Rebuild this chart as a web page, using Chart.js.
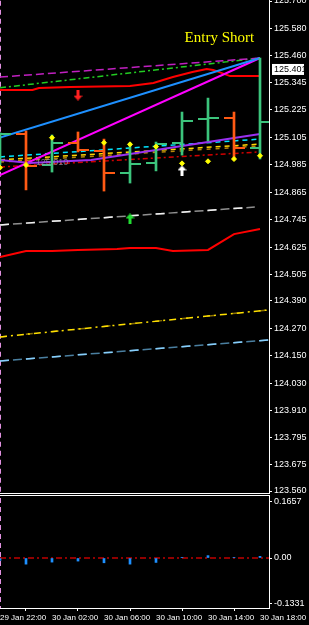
<html>
<head>
<script src="https://cdn.jsdelivr.net/npm/chart.js@4.4.0/dist/chart.umd.min.js"></script>
<style>
  body { margin: 0; background: #000; overflow: hidden; }
  .box { position: absolute; left: 0; width: 309px; }
</style>
</head>
<body>
<div class="box" style="top:0;height:500px"><canvas id="mainChart"></canvas></div>
<div class="box" style="top:494px;height:131px"><canvas id="subChart"></canvas></div>
<script>
// time axis is in hours from 29 Jan 22:00, one bar every 2 hours (H2)
const timeTicks = [0, 4, 8, 12, 16, 20];
const timeLabels = ['29 Jan 22:00', '30 Jan 02:00', '30 Jan 06:00', '30 Jan 10:00', '30 Jan 14:00', '30 Jan 18:00'];
const priceTicks = [125.700, 125.580, 125.460, 125.345, 125.225, 125.105, 124.985, 124.865, 124.745,
                    124.625, 124.505, 124.390, 124.270, 124.150, 124.030, 123.910, 123.795, 123.675, 123.560];
const subTicks = [0.1657, 0, -0.1331];
const lastPrice = 125.401;

// OHLC bars
const barTimes = [0, 2, 4, 6, 8, 10, 12, 14, 16, 18, 20];
const opens  = [125.006, 125.119, 124.984, 125.080, 125.045, 124.949, 124.993, 125.080, 125.183, 125.189, 125.058];
const highs  = [125.124, 125.132, 125.115, 125.128, 125.097, 125.080, 125.084, 125.215, 125.276, 125.215, 125.451];
const lows   = [124.984, 124.875, 124.953, 125.041, 124.870, 124.905, 124.958, 125.027, 125.089, 125.006, 125.010];
const closes = [125.119, 124.979, 125.080, 125.049, 124.949, 124.988, 125.076, 125.176, 125.189, 125.058, 125.172];

// yellow dots
const dotTimes  = [0, 2, 4, 8, 10, 12, 14, 16, 18, 20];
const dotValues = [124.972, 124.984, 125.103, 125.081, 125.074, 125.064, 124.991, 125.000, 125.010, 125.024];

// indicator lines [hour, price]
const magentaDash   = [[0, 125.368], [20, 125.451]];
const greenDashDot  = [[0, 125.321], [20, 125.451]];
const redUpper      = [[0, 125.311], [2.5, 125.311], [3, 125.320], [5.4, 125.324], [10, 125.329], [11.8, 125.342],
                       [13.3, 125.368], [14.8, 125.390], [15.9, 125.403], [16.4, 125.399], [17.7, 125.372], [20, 125.372]];
const blueLine      = [[0, 125.104], [20, 125.451]];
const magentaLine   = [[0, 124.940], [20, 125.451]];
const purpleLine    = [[0, 125.006], [2.3, 124.993], [7, 125.006], [20, 125.119]];
const cyanDash      = [[0, 125.019], [20, 125.097]];
const yellowDash    = [[0, 125.006], [20, 125.075]];
const goldDash      = [[0, 124.997], [20, 125.067]];
const redDashDot    = [[0, 124.975], [20, 125.041]];
const whiteDash     = [[0, 124.722], [19.6, 124.800]];
const redLower      = [[0, 124.582], [2, 124.608], [4, 124.608], [6, 124.613], [9, 124.617], [10, 124.621],
                       [12, 124.621], [13.3, 124.608], [16, 124.613], [18, 124.682], [20, 124.704]];
const yellowDashDot = [[0, 124.233], [20.7, 124.351]];
const skyDash       = [[0, 124.128], [20.7, 124.220]];

// arrows [hour, price]
const sellArrows  = [[6, 125.289]];
const buyArrows   = [[10, 124.748]];
const whiteArrows = [[14, 124.958]];

// lower window histogram
const histValues = [-0.007, -0.018, -0.012, -0.009, -0.014, -0.018, -0.013, 0.002, 0.007, 0.001, 0.005];

const upColor = '#3cc47c';
const downColor = '#ff5a14';
const FONT = "'Liberation Sans Narrow', 'Liberation Sans', sans-serif";
Chart.defaults.font.family = FONT;

const pts = a => a.map(p => ({ x: p[0], y: p[1] }));

function line(data, color, width, dash, order) {
  return { type: 'line', data: pts(data), borderColor: color, borderWidth: width, borderDash: dash || [],
           pointRadius: 0, fill: false, tension: 0, order: order || 20 };
}

function tickImg(color, left) {
  const c = document.createElement('canvas');
  c.width = 21; c.height = 2;
  const g = c.getContext('2d');
  g.fillStyle = color;
  g.fillRect(left ? 0 : 10, 0, 11, 2);
  return c;
}

function arrowImg(color, up) {
  const c = document.createElement('canvas');
  c.width = 9; c.height = 11;
  const g = c.getContext('2d');
  g.fillStyle = color;
  if (!up) { g.translate(0, 11); g.scale(1, -1); }
  g.beginPath();
  g.moveTo(4.5, 0); g.lineTo(9, 5); g.lineTo(0, 5); g.closePath(); g.fill();
  g.fillRect(3, 5, 3, 6);
  return c;
}

const isUp = barTimes.map((t, i) => closes[i] >= opens[i]);
const barColors = isUp.map(u => u ? upColor : downColor);
const openTicks = { up: tickImg(upColor, true), down: tickImg(downColor, true) };
const closeTicks = { up: tickImg(upColor, false), down: tickImg(downColor, false) };

const xScale = {
  type: 'linear', min: 0, max: 269 / 13, offset: false,
  afterBuildTicks: s => { s.ticks = timeTicks.map(v => ({ value: v })); },
  afterFit: s => { s.paddingLeft = 0; s.paddingRight = 0; }
};

const mainChart = new Chart(document.getElementById('mainChart'), {
  type: 'line',
  data: {
    datasets: [
      { type: 'bar', data: barTimes.map((t, i) => ({ x: t, y: [lows[i], highs[i]] })),
        backgroundColor: barColors, barThickness: 2, order: 2 },
      { type: 'scatter', data: barTimes.map((t, i) => ({ x: t, y: opens[i] })),
        pointStyle: isUp.map(u => u ? openTicks.up : openTicks.down), order: 1 },
      { type: 'scatter', data: barTimes.map((t, i) => ({ x: t, y: closes[i] })),
        pointStyle: isUp.map(u => u ? closeTicks.up : closeTicks.down), order: 1 },
      { type: 'scatter', data: dotTimes.map((t, i) => ({ x: t, y: dotValues[i] })),
        pointStyle: 'rectRot', pointRadius: 2.5, backgroundColor: '#ffff00', borderColor: '#ffff00', order: 0 },
      { type: 'scatter', data: pts(sellArrows), pointStyle: arrowImg('#ff2020', false), order: 0 },
      { type: 'scatter', data: pts(buyArrows), pointStyle: arrowImg('#22dd33', true), order: 0 },
      { type: 'scatter', data: pts(whiteArrows), pointStyle: arrowImg('#ffffff', true), order: 0 },
      line(magentaDash, '#c020c0', 1.5, [8, 4]),
      line(greenDashDot, '#22cc22', 1.5, [6, 3, 2, 3]),
      line(redUpper, '#ff0000', 2),
      line(cyanDash, '#00e5ff', 1.5, [5, 4]),
      line(yellowDash, '#ffd700', 1.5, [5, 4]),
      line(goldDash, '#b8860b', 1.5, [4, 5]),
      line(redDashDot, '#d00000', 1.5, [5, 3, 2, 3]),
      line(purpleLine, '#9a30f0', 2, [], 10),
      line(blueLine, '#1e90ff', 2, [], 10),
      line(magentaLine, '#ff00ff', 2, [], 10),
      line(whiteDash, '#f0f0f0', 1.5, [9, 17]),
      line(whiteDash, '#909090', 1.5, [9, 4], 21),
      line(redLower, '#ff0000', 2),
      line(yellowDashDot, '#ffe000', 1.5, [7, 4, 2, 4]),
      line(yellowDashDot, '#8a7000', 1.5, [7, 19], 21),
      line(skyDash, '#87cefa', 1.5, [9, 17]),
      line(skyDash, '#4a7fa0', 1.5, [9, 4], 21),
      line([[0, 123.4], [0, 125.8]], '#e090e0', 2, [5, 4])
    ]
  },
  options: {
    responsive: true, maintainAspectRatio: false, animation: false,
    layout: { autoPadding: false, padding: { top: 0, left: 0, right: 0, bottom: 7 } },
    plugins: { legend: { display: false }, tooltip: { enabled: false } },
    scales: {
      x: Object.assign({ display: false }, xScale),
      y: {
        position: 'right', min: 123.5513, max: 125.7044,
        afterBuildTicks: s => { s.ticks = priceTicks.map(v => ({ value: v })); },
        afterFit: s => { s.width = 40; s.paddingTop = 0; s.paddingBottom = 0; },
        grid: { drawOnChartArea: false, drawTicks: true, tickLength: 3, color: '#ffffff' },
        border: { display: true, color: '#ffffff', width: 1 },
        ticks: { color: '#ffffff', padding: 2, font: { size: 9 }, callback: v => v.toFixed(3) }
      }
    }
  },
  plugins: [{
    id: 'mainExtras',
    afterDraw(chart) {
      const c = chart.ctx, a = chart.chartArea, xs = chart.scales.x, ys = chart.scales.y;
      c.save();
      c.strokeStyle = '#ffffff'; c.lineWidth = 1;
      c.beginPath(); c.moveTo(0, a.bottom + 0.5); c.lineTo(a.right + 1, a.bottom + 0.5); c.stroke();
      // text objects
      c.fillStyle = '#ffff00';
      c.font = "15px 'Liberation Serif', serif";
      c.textBaseline = 'middle'; c.textAlign = 'left';
      c.fillText('Entry Short', xs.getPixelForValue(14.2), ys.getPixelForValue(125.538));
      c.fillStyle = 'rgba(150,150,170,0.8)';
      c.font = "9px " + FONT;
      c.fillText('125.010', xs.getPixelForValue(2.75), ys.getPixelForValue(124.993));
      // last price marker
      const y = ys.getPixelForValue(lastPrice);
      c.fillStyle = '#ffffff';
      c.fillRect(a.right + 3, y - 5.5, 32, 11);
      c.fillStyle = '#000000';
      c.font = "9px " + FONT;
      c.fillText(lastPrice.toFixed(3), a.right + 5, y + 0.5);
      c.restore();
    }
  }]
});

const subChart = new Chart(document.getElementById('subChart'), {
  type: 'bar',
  data: {
    datasets: [
      { type: 'bar', data: barTimes.map((t, i) => ({ x: t, y: histValues[i] })),
        backgroundColor: '#1e90ff', barThickness: 2, order: 1 },
      line([[0, 0], [269 / 13, 0]], '#c00000', 1.5, [6, 3, 2, 3]),
      line([[0, -1], [0, 1]], '#e090e0', 2, [5, 4])
    ]
  },
  options: {
    responsive: true, maintainAspectRatio: false, animation: false,
    layout: { autoPadding: false, padding: { top: 1, left: 0, right: 0, bottom: 0 } },
    plugins: { legend: { display: false }, tooltip: { enabled: false } },
    scales: {
      x: Object.assign({}, xScale, {
        afterFit: s => { s.height = 17; s.paddingLeft = 0; s.paddingRight = 0; },
        grid: { drawOnChartArea: false, drawTicks: true, tickLength: 3, color: '#ffffff' },
        border: { display: true, color: '#ffffff', width: 1 },
        ticks: { color: '#ffffff', padding: 2, align: 'start', maxRotation: 0, autoSkip: false,
                 font: { size: 8 }, callback: (v, i) => timeLabels[i] }
      }),
      y: {
        position: 'right', min: -0.1466, max: 0.1848,
        afterBuildTicks: s => { s.ticks = subTicks.map(v => ({ value: v })); },
        afterFit: s => { s.width = 40; s.paddingTop = 0; s.paddingBottom = 0; },
        grid: { drawOnChartArea: false, drawTicks: true, tickLength: 3, color: '#ffffff' },
        border: { display: true, color: '#ffffff', width: 1 },
        ticks: { color: '#ffffff', padding: 2, font: { size: 9 },
                 callback: v => v === 0 ? '0.00' : v.toFixed(4) }
      }
    }
  },
  plugins: [{
    id: 'subFrame',
    afterDraw(chart) {
      const c = chart.ctx, a = chart.chartArea;
      c.save();
      c.strokeStyle = '#ffffff'; c.lineWidth = 1;
      c.beginPath(); c.moveTo(0, a.top + 0.5); c.lineTo(a.right + 1, a.top + 0.5); c.stroke();
      c.restore();
    }
  }]
});
</script>
</body>
</html>
